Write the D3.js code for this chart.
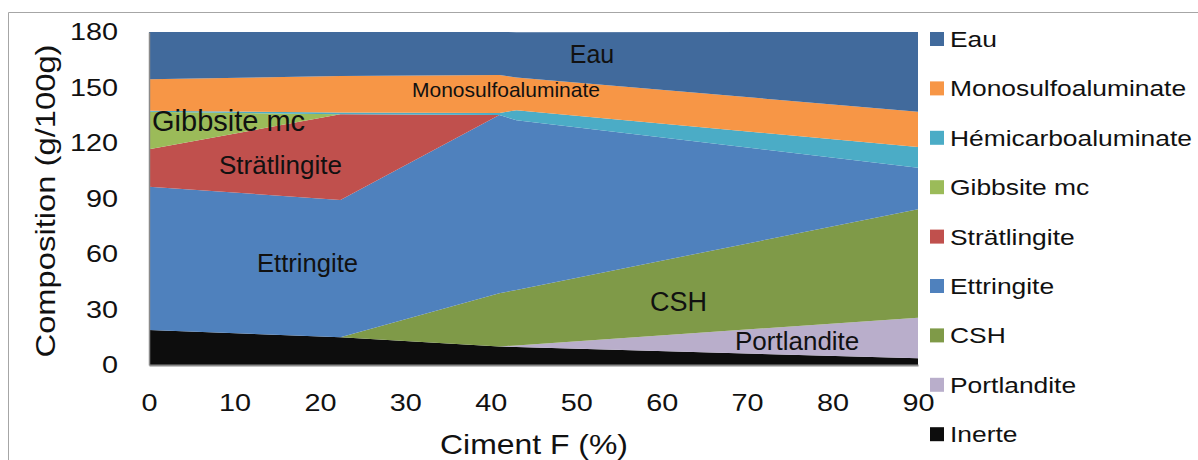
<!DOCTYPE html>
<html>
<head>
<meta charset="utf-8">
<script src="https://cdn.jsdelivr.net/npm/d3@7"></script>
<style>
  html, body { margin: 0; padding: 0; background: #fff; }
  svg { display: block; font-family: "Liberation Sans", Arial, sans-serif; }
</style>
</head>
<body>
<svg id="chart" width="1198" height="460"></svg>
<script>
// ---- Data ----
const cimentF      = [0, 22.4, 41, 43, 90];
const inerte       = [18.9, 15.0, 10.0, 9.7, 3.6];
const portlandite  = [0, 0, 0, 0.9, 22.0];
const csh          = [0, 0, 28.8, 30.0, 58.6];
const ettringite   = [77.5, 74.2, 96.3, 91.7, 22.4];
const stratlingite = [20.2, 46.3, 0, 0, 0];
const gibbsite     = [20.3, 0, 0, 0, 0];
const hemicarbo    = [0.6, 1.0, 1.1, 5.4, 11.2];
const monosulfo    = [16.9, 19.7, 20.6, 17.7, 19.1];
const eau          = [25.6, 23.8, 23.2, 24.5, 43.1];

const seriesNames  = ["Inerte", "Portlandite", "CSH", "Ettringite", "Strätlingite",
                      "Gibbsite mc", "Hémicarboaluminate", "Monosulfoaluminate", "Eau"];
const seriesValues = [inerte, portlandite, csh, ettringite, stratlingite,
                      gibbsite, hemicarbo, monosulfo, eau];
const seriesColors = ["#0d0d0d", "#b9aecb", "#7f9a48", "#4f81bd", "#c0504d",
                      "#9bbb59", "#4bacc6", "#f79646", "#416a9c"];
const legendOrder  = ["Eau", "Monosulfoaluminate", "Hémicarboaluminate", "Gibbsite mc",
                      "Strätlingite", "Ettringite", "CSH", "Portlandite", "Inerte"];
const xTicks = [0, 10, 20, 30, 40, 50, 60, 70, 80, 90];
const yTicks = [0, 30, 60, 90, 120, 150, 180];

// ---- Build table ----
const table = cimentF.map((x, i) => {
  const row = { x };
  seriesNames.forEach((n, k) => row[n] = seriesValues[k][i]);
  return row;
});

const svg = d3.select("#chart");
const X0 = 149, X1 = 918, Y0 = 365, Y1 = 32;
const x = d3.scaleLinear().domain([0, 90]).range([X0, X1]);
const y = d3.scaleLinear().domain([0, 180]).range([Y0, Y1]);
const color = d3.scaleOrdinal().domain(seriesNames).range(seriesColors);

// outer frame
svg.append("path").attr("d", "M8.5,460 V12.5 H1198")
  .attr("fill", "none").attr("stroke", "#a6a6a6").attr("stroke-width", 1);

const stack = d3.stack().keys(seriesNames);
const layers = stack(table);
const area = d3.area()
  .x(d => x(d.data.x))
  .y0(d => y(d[0]))
  .y1(d => y(d[1]));

svg.append("g").selectAll("path").data(layers).join("path")
  .attr("d", area)
  .attr("fill", d => color(d.key));

// axes
const sx = 1.2;
const gy = svg.append("g").attr("transform", `translate(${X0},0)`)
  .call(d3.axisLeft(y).tickValues(yTicks).tickSize(0).tickSizeOuter(0));
gy.select(".domain").attr("stroke", "#8a8a8a").attr("stroke-width", 1.5);
gy.selectAll("text").attr("x", 0).attr("font-size", 24).attr("fill", "#111")
  .attr("font-family", "Liberation Sans, Arial, sans-serif")
  .attr("transform", `translate(-31,0) scale(${sx},1)`);

const gx = svg.append("g").attr("transform", `translate(0,${Y0})`)
  .call(d3.axisBottom(x).tickValues(xTicks).tickSize(0).tickSizeOuter(0));
gx.select(".domain").attr("stroke", "#8a8a8a").attr("stroke-width", 2);
gx.selectAll("text").attr("y", 0).attr("font-size", 24).attr("fill", "#111")
  .attr("font-family", "Liberation Sans, Arial, sans-serif")
  .attr("transform", `translate(0,29) scale(${sx},1)`);

// axis titles
svg.append("text")
  .attr("transform", `translate(55,201) rotate(-90)`)
  .attr("text-anchor", "middle").attr("font-size", 28).attr("fill", "#111")
  .attr("textLength", 313).attr("lengthAdjust", "spacingAndGlyphs")
  .text("Composition (g/100g)");
svg.append("text")
  .attr("x", 534).attr("y", 454)
  .attr("text-anchor", "middle").attr("font-size", 28).attr("fill", "#111")
  .attr("textLength", 188).attr("lengthAdjust", "spacingAndGlyphs")
  .text("Ciment F (%)");

// in-plot labels
const labels = [
  { t: "Eau", x: 592, y: 63, s: 25, a: "middle" },
  { t: "Monosulfoaluminate", x: 412, y: 97, s: 21, a: "start" },
  { t: "Gibbsite mc", x: 152, y: 131, s: 29, a: "start" },
  { t: "Strätlingite", x: 219, y: 174, s: 26, a: "start" },
  { t: "Ettringite", x: 257, y: 272, s: 25.6, a: "start" },
  { t: "CSH", x: 650, y: 311, s: 27, a: "start" },
  { t: "Portlandite", x: 735, y: 350, s: 26, a: "start" }
];
svg.append("g").selectAll("text").data(labels).join("text")
  .attr("x", d => d.x).attr("y", d => d.y)
  .attr("font-size", d => d.s).attr("text-anchor", d => d.a)
  .attr("fill", "#111").text(d => d.t);

// legend
const lg = svg.append("g");
legendOrder.forEach((name, i) => {
  const by = 47 + i * 49.4;
  lg.append("rect").attr("x", 930).attr("y", by - 15).attr("width", 14).attr("height", 14)
    .attr("fill", color(name));
  lg.append("text").attr("transform", `translate(950,${by}) scale(${sx},1)`)
    .attr("font-size", 22).attr("fill", "#111").text(name);
});
</script>
</body>
</html>
